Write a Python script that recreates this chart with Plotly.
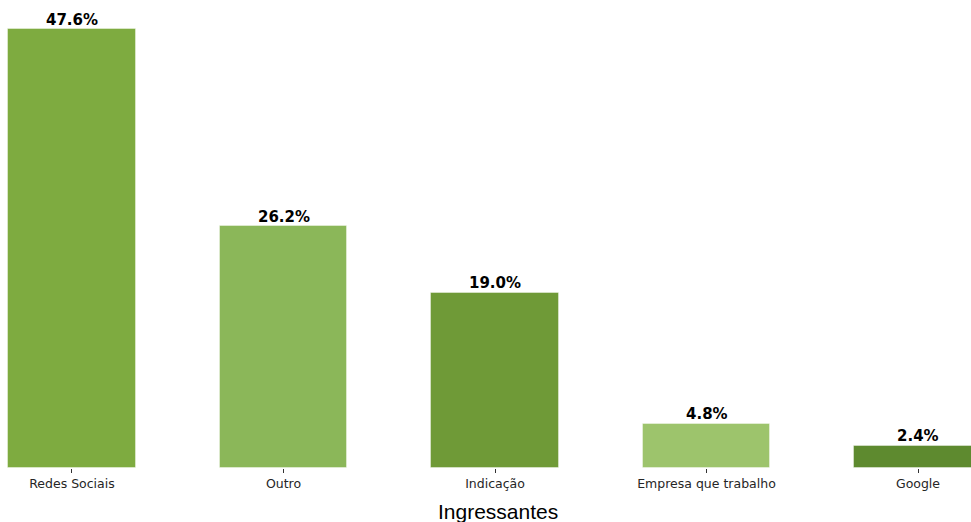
import plotly.graph_objects as go

categorias = ['Redes Sociais', 'Outro', 'Indicação', 'Empresa que trabalho', 'Google']
percentuais = [47.6, 26.2, 19.0, 4.8, 2.4]
cores = ['#7EAB40', '#8BB759', '#6F9A37', '#9DC46C', '#5E8A2F']
rotulos = ['{:.1f}%'.format(v) for v in percentuais]

fig = go.Figure()
fig.add_trace(go.Bar(
    x=list(range(len(categorias))),
    y=percentuais,
    width=0.605,
    marker=dict(color=cores, line=dict(color='rgba(255,255,255,0.4)', width=1)),
    hoverinfo='skip',
))

# rótulos de valor logo acima de cada barra
for i, (v, r) in enumerate(zip(percentuais, rotulos)):
    fig.add_annotation(
        x=i, y=v, text='<b>' + r + '</b>', showarrow=False,
        xanchor='center', yanchor='bottom', yshift=-1.5,
        font=dict(family='DejaVu Sans', size=15, color='black'),
    )

fig.update_layout(
    width=971, height=522,
    margin=dict(l=0, r=0, t=0, b=54),
    plot_bgcolor='white', paper_bgcolor='white',
    showlegend=False,
    bargap=0,
)
fig.update_xaxes(
    range=[-0.3404, 4.2506],
    tickmode='array',
    tickvals=list(range(len(categorias))),
    ticktext=categorias,
    ticks='outside', ticklen=4, tickwidth=1, tickcolor='#333333',
    tickfont=dict(family='DejaVu Sans', size=12.5, color='#262626'),
    showline=False, showgrid=False, zeroline=False,
)
fig.update_yaxes(range=[0, 50.75], visible=False)

fig.add_annotation(
    text='Ingressantes', xref='paper', yref='paper',
    x=498.5 / 971, y=-0.094, xanchor='center', yanchor='middle',
    showarrow=False,
    font=dict(family='Liberation Sans', size=21, color='black'),
)

# tira a margem padrão do body para a figura ocupar a janela inteira
fig.write_html('out.html', config={'displayModeBar': False},
               post_script="document.body.style.margin='0';")
